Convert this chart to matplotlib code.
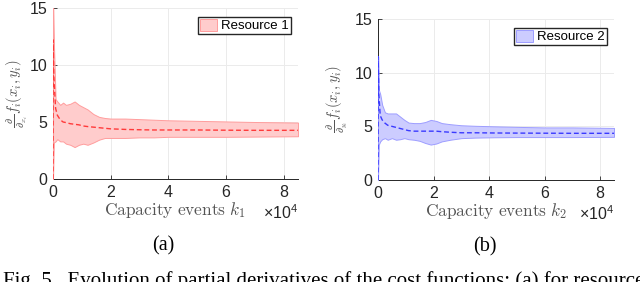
import matplotlib
matplotlib.use("Agg")
import matplotlib.pyplot as plt
from matplotlib.patches import Patch
from matplotlib.ticker import FuncFormatter, FixedLocator

plt.rcParams['font.family'] = ['Liberation Sans', 'DejaVu Sans']
plt.rcParams['mathtext.fontset'] = 'custom'
plt.rcParams['mathtext.rm'] = 'Liberation Sans'
plt.rcParams['mathtext.it'] = 'Liberation Sans:italic'

# Ressource 1 (rouge)
k1 = [0, 50, 300, 900, 1500, 2500, 3500, 4500, 6000, 7500, 9000, 10500, 12000,
      14000, 16000, 18000, 20000, 25000, 30000, 35000, 40000, 50000, 60000, 70000, 85000]
mean1 = [0, 12.2, 9.0, 6.2, 5.6, 5.2, 5.0, 4.95, 4.85, 4.8, 4.75, 4.65, 4.6,
         4.55, 4.5, 4.45, 4.4, 4.35, 4.32, 4.3, 4.3, 4.3, 4.28, 4.27, 4.27]
upper1 = [0, 15, 12.0, 7.0, 6.8, 6.5, 6.7, 6.5, 6.6, 6.8, 6.5, 6.3, 6.1,
          5.7, 5.45, 5.35, 5.3, 5.3, 5.25, 5.2, 5.15, 5.1, 5.05, 5.0, 4.95]
lower1 = [0, 0.5, 3.2, 3.3, 3.5, 3.3, 3.3, 3.1, 3.0, 2.8, 3.0, 3.1, 3.0,
          3.2, 3.45, 3.6, 3.6, 3.6, 3.65, 3.65, 3.7, 3.7, 3.7, 3.72, 3.75]

# Ressource 2 (bleu)
k2 = [0, 50, 300, 800, 1500, 2500, 3500, 5000, 6500, 8000, 9500, 11000, 13000,
      15000, 17000, 19000, 21000, 23000, 26000, 30000, 35000, 42000, 50000, 60000, 70000, 85000]
mean2 = [0, 11.5, 8.0, 6.0, 5.6, 5.3, 5.1, 5.0, 4.9, 4.8, 4.7, 4.6, 4.55,
         4.55, 4.55, 4.55, 4.55, 4.5, 4.45, 4.4, 4.4, 4.38, 4.37, 4.36, 4.35, 4.35]
upper2 = [0, 11.5, 8.4, 8.0, 7.0, 6.3, 6.2, 6.2, 6.2, 5.9, 5.6, 5.35, 5.3,
          5.3, 5.4, 5.6, 5.5, 5.3, 5.2, 5.1, 5.05, 5.0, 4.95, 4.9, 4.9, 4.85]
lower2 = [0, 0.5, 3.3, 3.6, 3.8, 3.9, 3.75, 3.9, 3.75, 3.8, 3.9, 3.8, 3.75,
          3.65, 3.45, 3.3, 3.4, 3.6, 3.75, 3.9, 3.95, 3.98, 4.0, 4.0, 4.0, 4.02]

panels = [
    dict(k=k1, mean=mean1, up=upper1, lo=lower1, face='#ffcccc', edge='#ff9d9d',
         line='#ff3a3a', label='Resource 1', xlab=r'$\mathrm{Capacity\ events}\ k_1$',
         ylab=r'$\frac{\partial}{\partial_{x_i}} f_i(x_i, y_i)$', sub='(a)',
         rect=[53/640, 1-179/282, 245/640, 171/282], leg=(0.971, 0.947), ylx=17),
    dict(k=k2, mean=mean2, up=upper2, lo=lower2, face='#ccccff', edge='#9d9dff',
         line='#3a3aff', label='Resource 2', xlab=r'$\mathrm{Capacity\ events}\ k_2$',
         ylab=r'$\frac{\partial}{\partial_{y_i}} f_i(x_i, y_i)$', sub='(b)',
         rect=[378/640, 1-180/282, 236/640, 161/282], leg=(0.970, 0.944), ylx=337),
]

fig = plt.figure(figsize=(6.4, 2.82), dpi=100)

for p in panels:
    ax = fig.add_axes(p['rect'])
    w = p['rect'][2] * 640
    h = p['rect'][3] * 282
    ax.fill_between(p['k'], p['lo'], p['up'], facecolor=p['face'], edgecolor=p['edge'],
                    linewidth=0.7, zorder=3)
    ax.plot(p['k'], p['mean'], color=p['line'], lw=1.0, dashes=(3.5, 2), zorder=4)
    ax.set_xlim(0, 85000)
    ax.set_ylim(0, 15)
    ax.xaxis.set_major_locator(FixedLocator([0, 20000, 40000, 60000, 80000]))
    ax.xaxis.set_major_formatter(FuncFormatter(lambda v, _: f"{v/1e4:g}"))
    ax.set_yticks([0, 5, 10, 15])
    ax.grid(True, color='#ebebeb', lw=0.7, zorder=0)
    ax.set_axisbelow(True)
    for s in ['top', 'right']:
        ax.spines[s].set_visible(False)
    for s in ['left', 'bottom']:
        ax.spines[s].set_color('#262626')
        ax.spines[s].set_linewidth(0.7)
    ax.tick_params(direction='in', length=3, width=0.6, color='#262626',
                   labelcolor='#262626', labelsize=11.5, pad=4)
    ax.set_xlabel(p['xlab'], fontsize=12.5, color='#555555', math_fontfamily='cm', labelpad=0)
    ax.set_ylabel(p['ylab'], fontsize=10.5, color='#555555', math_fontfamily='cm',
                  va='center')
    ax.yaxis.set_label_coords((p['ylx'] - p['rect'][0] * 640) / w, 0.5)
    ax.text(1.0, -34/h, r'$\times\mathregular{10^4}$', transform=ax.transAxes,
            ha='right', va='center', fontsize=11.5, color='#262626')
    ax.text(0.451, -67/h, p['sub'], transform=ax.transAxes, ha='center', va='center',
            fontsize=14.5, family='Liberation Serif')
    ax.legend(handles=[Patch(facecolor=p['face'], edgecolor=p['edge'], lw=0.7)],
              labels=[p['label']], loc='upper right', bbox_to_anchor=p['leg'],
              borderaxespad=0, fancybox=False, framealpha=1, edgecolor='#262626',
              fontsize=9.5, handlelength=1.3, handleheight=1.0, handletextpad=0.3,
              borderpad=0.15)

fig.text(3/640, 1-271/282, 'Fig. 5.  Evolution of partial derivatives of the cost functions: (a) for resource',
         ha='left', va='top', fontsize=15, family='Liberation Serif')

fig.savefig('out.png', dpi=100)
